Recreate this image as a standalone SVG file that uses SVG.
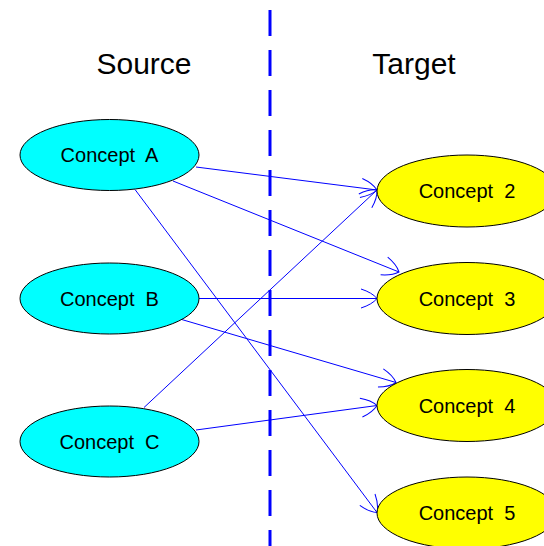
<svg xmlns="http://www.w3.org/2000/svg" width="544" height="546" viewBox="0 0 544 546">
  <style>
    .src ellipse { fill: #00FFFF; stroke: #000; stroke-width: 1; }
    .tgt ellipse { fill: #FFFF00; stroke: #000; stroke-width: 1; }
    .lbl { font-family: "Liberation Sans", Arial, sans-serif; font-size: 20px; fill: #000; text-anchor: middle; white-space: pre; }
    .title { font-family: "Liberation Sans", Arial, sans-serif; font-size: 30px; fill: #000; text-anchor: middle; }
    .edges path { stroke: #0000FF; stroke-width: 1; fill: none; marker-end: url(#arr); }
  </style>
  <defs>
    <marker id="arr" markerUnits="userSpaceOnUse" markerWidth="40" markerHeight="40" refX="0" refY="0" orient="auto" overflow="visible">
      <path d="M-16,-9.5 Q-5,-6 0,0 Q-5,6 -16,9.5" fill="none" stroke="#0000FF" stroke-width="1"/>
    </marker>
  </defs>
  <rect width="544" height="546" fill="#fff"/>
  <g id="divider">
    <line x1="270" y1="10" x2="270" y2="546" stroke="#0000FF" stroke-width="3" stroke-dasharray="26 14"/>
  </g>
  <g id="titles">
    <text class="title" x="144" y="74">Source</text>
    <text class="title" x="414" y="74">Target</text>
  </g>
  <g class="edges" id="connectors">
    <path d="M196,167 L377,190"/>
    <path d="M173,181 L399,272"/>
    <path d="M135,189.5 L377,512.5"/>
    <path d="M199,298.5 L377,298.5"/>
    <path d="M180,319 L396,382.5"/>
    <path d="M144,407.5 L377,190"/>
    <path d="M196,430 L377,405.5"/>
  </g>
  <g id="conceptA" class="src">
    <ellipse cx="109.5" cy="155" rx="89.5" ry="35.5"/>
    <text class="lbl" x="109.5" y="162">Concept  A</text>
  </g>
  <g id="conceptB" class="src">
    <ellipse cx="109.5" cy="298.5" rx="89.5" ry="35.5"/>
    <text class="lbl" x="109.5" y="305.5">Concept  B</text>
  </g>
  <g id="conceptC" class="src">
    <ellipse cx="109.5" cy="441.5" rx="89.5" ry="35.5"/>
    <text class="lbl" x="109.5" y="448.5">Concept  C</text>
  </g>
  <g id="concept2" class="tgt">
    <ellipse cx="467" cy="191" rx="90" ry="36"/>
    <text class="lbl" x="467" y="198">Concept  2</text>
  </g>
  <g id="concept3" class="tgt">
    <ellipse cx="467" cy="298.5" rx="90" ry="36"/>
    <text class="lbl" x="467" y="305.5">Concept  3</text>
  </g>
  <g id="concept4" class="tgt">
    <ellipse cx="467" cy="405.5" rx="90" ry="36"/>
    <text class="lbl" x="467" y="412.5">Concept  4</text>
  </g>
  <g id="concept5" class="tgt">
    <ellipse cx="467" cy="513" rx="90" ry="36"/>
    <text class="lbl" x="467" y="520">Concept  5</text>
  </g>
</svg>
